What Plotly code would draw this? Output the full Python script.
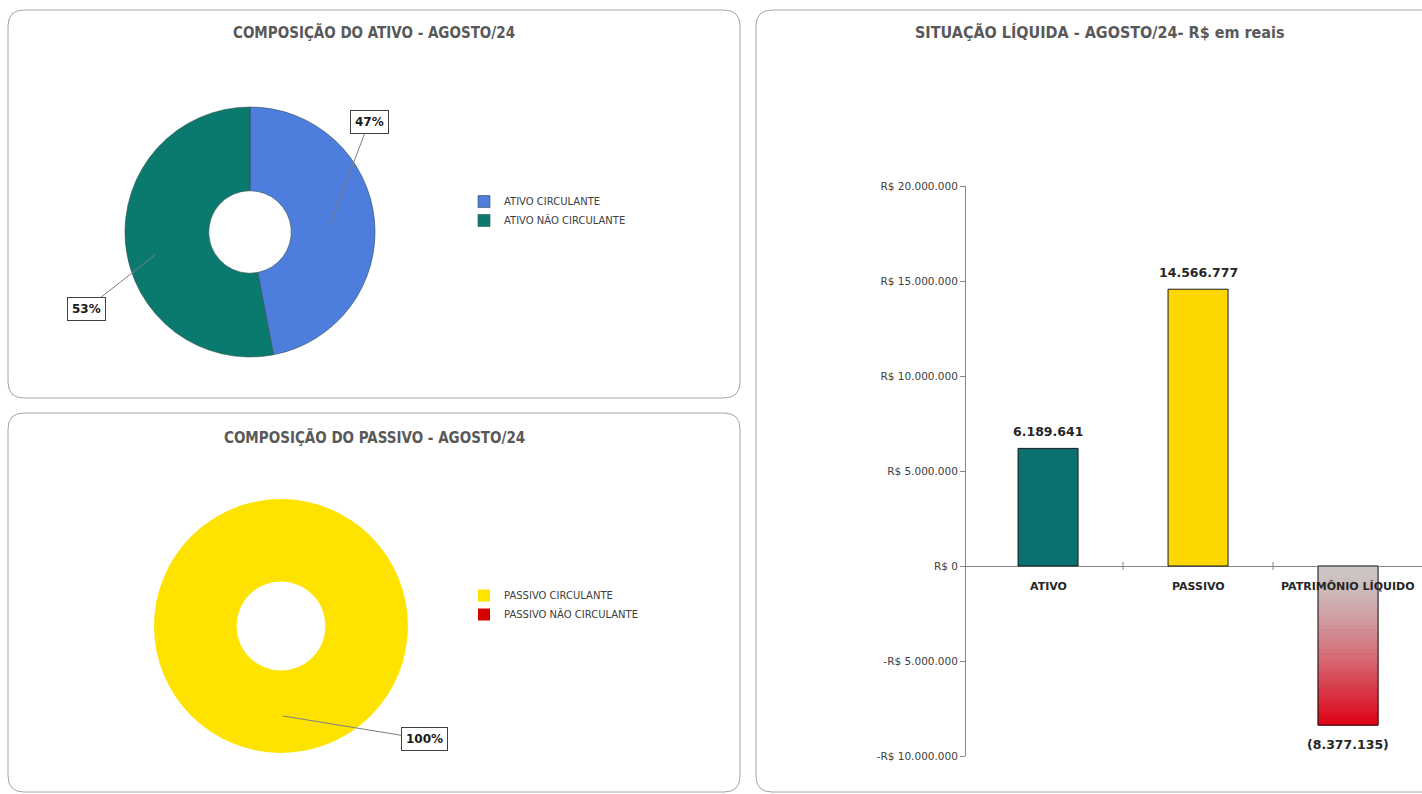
import plotly.graph_objects as go

W, H = 1422, 794

# ---------------- data ----------------
ativo_labels = ["ATIVO CIRCULANTE", "ATIVO NÃO CIRCULANTE"]
ativo_values = [47, 53]
ativo_colors = ["#4E7EDD", "#0B7A6E"]

passivo_labels = ["PASSIVO CIRCULANTE", "PASSIVO NÃO CIRCULANTE"]
passivo_values = [100, 0]
passivo_colors = ["#FFE300", "#D40000"]

bar_categories = ["ATIVO", "PASSIVO", "PATRIMÔNIO LÍQUIDO"]
bar_values = [6189641, 14566777, -8377135]
bar_colors = ["#0B7070", "#FFD700", "rgba(0,0,0,0)"]

y_tick_values = [-10000000, -5000000, 0, 5000000, 10000000, 15000000, 20000000]

title_ativo = "COMPOSIÇÃO DO ATIVO - AGOSTO/24"
title_passivo = "COMPOSIÇÃO DO PASSIVO - AGOSTO/24"
title_situacao = "SITUAÇÃO LÍQUIDA - AGOSTO/24- R$ em reais"


# ---------------- helpers ----------------
def px(x):
    return x / W


def py(y):
    return 1 - y / H


def br(n):
    return f"{abs(int(n)):,}".replace(",", ".")


def tick_text(v):
    if v == 0:
        return "R$ 0"
    return ("-" if v < 0 else "") + "R$ " + br(v)


def bar_label(v):
    return f"({br(v)})" if v < 0 else br(v)


def pct(values):
    s = sum(values)
    return [f"{round(v / s * 100)}%" for v in values]


def rounded_rect(x0, y0, x1, y1, r):
    pts = [
        f"M {px(x0 + r)},{py(y0)}",
        f"L {px(x1 - r)},{py(y0)}",
        f"Q {px(x1)},{py(y0)} {px(x1)},{py(y0 + r)}",
        f"L {px(x1)},{py(y1 - r)}",
        f"Q {px(x1)},{py(y1)} {px(x1 - r)},{py(y1)}",
        f"L {px(x0 + r)},{py(y1)}",
        f"Q {px(x0)},{py(y1)} {px(x0)},{py(y1 - r)}",
        f"L {px(x0)},{py(y0 + r)}",
        f"Q {px(x0)},{py(y0)} {px(x0 + r)},{py(y0)}",
        "Z",
    ]
    return " ".join(pts)


COND = "DejaVu Sans Condensed, Liberation Sans, sans-serif"
SANS = "DejaVu Sans, Liberation Sans, sans-serif"
TITLE_FONT_L = dict(family=COND, size=15, color="#595959", weight="bold")
TITLE_FONT_R = dict(family=COND, size=16, color="#595959", weight="bold")
LEGEND_FONT = dict(family=SANS, size=10, color="#404040")
CAT_FONT = dict(family=SANS, size=11, color="#262626", weight="bold")
VAL_FONT = dict(family=SANS, size=12.5, color="#262626", weight="bold")

fig = go.Figure()

# ---------------- pies ----------------
fig.add_trace(go.Pie(
    labels=ativo_labels, values=ativo_values, hole=0.33, sort=False,
    direction="clockwise", rotation=0, textinfo="none",
    marker=dict(colors=ativo_colors, line=dict(color="#2f4f4f", width=0.6)),
    domain=dict(x=[px(125), px(375)], y=[py(357), py(107)]),
    legend="legend", showlegend=True,
))
fig.add_trace(go.Pie(
    labels=passivo_labels, values=passivo_values, hole=0.35, sort=False,
    direction="clockwise", rotation=0, textinfo="none",
    marker=dict(colors=passivo_colors, line=dict(width=0)),
    domain=dict(x=[px(154), px(408)], y=[py(753), py(499)]),
    legend="legend2", showlegend=True,
))

# ---------------- bars ----------------
# gradient fill for the negative bar, built from its value as stacked segments
n_seg = 40
top_rgb = (204, 199, 199)
bot_rgb = (222, 0, 20)
for cat, v in zip(bar_categories, bar_values):
    if v >= 0:
        continue
    for k in range(n_seg):
        t = (k + 0.5) / n_seg
        tt = t ** 1.4
        col = "rgb(%d,%d,%d)" % tuple(int(round(a + (b - a) * tt)) for a, b in zip(top_rgb, bot_rgb))
        fig.add_trace(go.Bar(
            x=[cat], y=[v / n_seg], base=[v * k / n_seg], width=0.4,
            marker=dict(color=col, line=dict(color=col, width=1)),
            showlegend=False, hoverinfo="skip", xaxis="x", yaxis="y",
        ))

fig.add_trace(go.Bar(
    x=bar_categories, y=bar_values, width=0.4,
    marker=dict(color=bar_colors, line=dict(color="#1a1a1a", width=1)),
    showlegend=False, xaxis="x", yaxis="y",
))

# ---------------- layout ----------------
shapes = [
    dict(type="path", xref="paper", yref="paper", path=rounded_rect(8, 10, 740, 398, 16),
         line=dict(color="#A6A6A6", width=1), fillcolor="rgba(0,0,0,0)", layer="below"),
    dict(type="path", xref="paper", yref="paper", path=rounded_rect(8, 413, 740, 792, 16),
         line=dict(color="#A6A6A6", width=1), fillcolor="rgba(0,0,0,0)", layer="below"),
    dict(type="path", xref="paper", yref="paper", path=rounded_rect(756, 10, 1450, 792, 16),
         line=dict(color="#A6A6A6", width=1), fillcolor="rgba(0,0,0,0)", layer="below"),
]
for b in [0.5, 1.5]:
    shapes.append(dict(type="line", xref="x", yref="y", x0=b, x1=b, ysizemode="pixel", yanchor=0,
                       y0=-4, y1=4, line=dict(color="#868686", width=1)))

annotations = [
    dict(text=title_ativo, x=px(374), y=py(33), xref="paper", yref="paper", showarrow=False,
         font=TITLE_FONT_L, xanchor="center", yanchor="middle"),
    dict(text=title_passivo, x=px(374), y=py(438), xref="paper", yref="paper", showarrow=False,
         font=TITLE_FONT_L, xanchor="center", yanchor="middle"),
    dict(text=title_situacao, x=px(1100), y=py(33), xref="paper", yref="paper", showarrow=False,
         font=TITLE_FONT_R, xanchor="center", yanchor="middle"),
]

# category labels on the zero line
for cat in bar_categories:
    annotations.append(dict(text=cat, x=cat, y=0, xref="x", yref="y", showarrow=False,
                            yanchor="top", yshift=-12, font=CAT_FONT))

# value labels
for cat, v in zip(bar_categories, bar_values):
    annotations.append(dict(text=bar_label(v), x=cat, y=v, xref="x", yref="y", showarrow=False,
                            yanchor="bottom" if v >= 0 else "top",
                            yshift=7 if v >= 0 else -10, font=VAL_FONT))

# pie percentage labels with leader lines
p_ativo = pct(ativo_values)
p_passivo = pct(passivo_values)
label_boxes = [
    (p_ativo[0], 330, 225, 369, 122),
    (p_ativo[1], 155, 255, 86, 309),
    (p_passivo[0], 283, 716, 424, 739),
]
for txt, tx, ty, bx, by in label_boxes:
    annotations.append(dict(
        text=txt, x=px(tx), y=py(ty), xref="paper", yref="paper",
        ax=bx - tx, ay=by - ty, axref="pixel", ayref="pixel",
        showarrow=True, arrowhead=0, arrowwidth=1, arrowcolor="#7f7f7f",
        bordercolor="#404040", borderwidth=1, borderpad=4, bgcolor="white",
        font=dict(family=SANS, size=12, color="#1a1a1a", weight="bold"),
    ))

fig.update_layout(
    width=W, height=H,
    margin=dict(l=0, r=0, t=0, b=0, autoexpand=False),
    paper_bgcolor="white", plot_bgcolor="rgba(0,0,0,0)",
    barmode="overlay",
    shapes=shapes, annotations=annotations,
    legend=dict(x=px(464), y=py(187), xanchor="left", yanchor="top", font=LEGEND_FONT,
                bgcolor="rgba(0,0,0,0)", itemclick=False, itemdoubleclick=False, tracegroupgap=0),
    legend2=dict(x=px(464), y=py(581), xanchor="left", yanchor="top", font=LEGEND_FONT,
                 bgcolor="rgba(0,0,0,0)", itemclick=False, itemdoubleclick=False, tracegroupgap=0),
    xaxis=dict(domain=[px(966), 1.0], range=[-0.547, 2.493], type="category",
               categoryorder="array", categoryarray=bar_categories, automargin=False,
               showticklabels=False, showline=False, showgrid=False, zeroline=False, ticks=""),
    yaxis=dict(domain=[py(756), py(186)], range=[-10000000, 20000000], automargin=False,
               tickvals=y_tick_values, ticktext=[tick_text(v) for v in y_tick_values],
               tickfont=dict(family=SANS, size=10.5, color="#404040"),
               showline=True, linecolor="#868686", linewidth=1,
               ticks="outside", ticklen=5, tickcolor="#868686",
               showgrid=False, zeroline=True, zerolinecolor="#868686", zerolinewidth=1),
    showlegend=True,
)

fig.write_html("out.html", config={"displayModeBar": False},
               post_script="document.body.style.margin='0';")
